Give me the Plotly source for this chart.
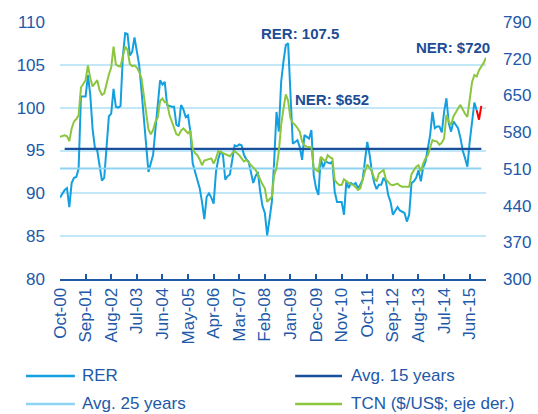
import plotly.graph_objects as go

# ---- data -------------------------------------------------------------
mon_names = ["Jan", "Feb", "Mar", "Apr", "May", "Jun",
             "Jul", "Aug", "Sep", "Oct", "Nov", "Dec"]
months = []
y, m = 2000, 10
for _ in range(184):
    months.append(f"{mon_names[m-1]}-{y % 100:02d}")
    m += 1
    if m > 12:
        m, y = 1, y + 1

tick_labels = ["Oct-00", "Sep-01", "Aug-02", "Jul-03", "Jun-04", "May-05",
               "Apr-06", "Mar-07", "Feb-08", "Jan-09", "Dec-09", "Nov-10",
               "Oct-11", "Sep-12", "Aug-13", "Jul-14", "Jun-15"]

rer = [89.5, 90.0, 90.4, 90.6, 88.4, 91.2, 91.8, 91.9, 92.9, 101.3,
       101.3, 101.3, 103.8, 101.5, 97.5, 95.3, 95.0, 93.0, 91.5, 91.8,
       96.0, 99.0, 99.3, 102.2, 100.1, 100.0, 100.2, 106.0, 108.7, 108.6,
       106.1, 106.5, 108.2, 106.5, 105.0, 102.0, 99.0, 96.0, 92.5, 93.5,
       94.5, 97.5, 100.5, 103.2, 102.7, 103.0, 100.3, 100.2, 100.1, 100.1,
       98.0, 97.8, 100.3, 99.8, 98.9, 99.1, 97.2, 93.5, 92.5, 91.8,
       90.6, 89.0, 87.0, 89.6, 90.0, 89.5, 88.8, 92.5, 94.0, 94.9,
       94.5, 91.6, 92.0, 92.2, 93.7, 95.6, 95.5, 95.7, 95.6, 94.5,
       94.0, 93.7, 92.5, 91.2, 92.0, 92.5, 90.2, 88.5, 87.7, 85.1,
       87.0, 89.0, 93.7, 99.5, 97.2, 103.0, 105.4, 107.3, 107.5, 101.1,
       95.8, 96.0, 96.2, 95.4, 93.9, 96.8, 96.6, 96.4, 97.4, 92.1,
       90.6, 89.8, 94.1, 93.0, 93.7, 93.6, 93.5, 93.7, 90.2, 89.0,
       89.0, 89.0, 87.5, 91.4, 90.6, 91.2, 91.0, 91.2, 90.6, 91.0,
       91.6, 94.0, 96.0, 94.5, 92.5, 91.2, 90.5, 91.0, 91.0, 91.8,
       91.4, 89.8, 89.0, 87.5, 88.0, 88.4, 88.0, 87.8, 87.7, 86.7,
       87.5, 91.2, 91.4, 91.8, 92.7, 91.4, 93.0, 93.7, 95.3, 96.8,
       99.5, 97.6, 97.8, 97.8, 97.1, 99.5, 101.1, 98.2, 97.2, 98.4,
       98.0, 97.6, 96.5, 95.0, 94.1, 93.1, 96.0, 98.4, 100.6, 99.7]
rer_latest = [99.7, 98.6, 100.2]          # red segment, last months

tcn = [571, 573, 574, 572, 563, 587, 600, 605, 612, 665,
       673, 679, 707, 683, 667, 672, 679, 660, 651, 654,
       673, 690, 703, 743, 709, 706, 705, 725, 743, 737,
       710, 706, 707, 703, 695, 683, 650, 625, 585, 576,
       584, 600, 608, 640, 644, 637, 637, 613, 600, 590,
       576, 574, 583, 587, 582, 578, 583, 549, 540, 536,
       528, 517, 526, 527, 529, 530, 520, 530, 544, 542,
       540, 538, 536, 534, 540, 544, 540, 536, 530, 524,
       527, 522, 517, 512, 508, 500, 489, 480, 473, 447,
       452, 457, 498, 511, 543, 594, 625, 652, 640, 606,
       598, 594, 588, 581, 562, 555, 552, 551, 551, 511,
       508, 505, 533, 528, 524, 536, 532, 530, 489, 483,
       479, 479, 490, 487, 483, 481, 479, 475, 470, 473,
       490, 505, 518, 512, 505, 492, 486, 501, 505, 508,
       490, 485, 480, 479, 481, 482, 478, 476, 476, 476,
       476, 500, 508, 514, 517, 505, 520, 530, 536, 549,
       565, 563, 562, 556, 560, 568, 613, 600, 594, 610,
       619, 625, 632, 622, 615, 609, 648, 675, 689, 686,
       698, 705, 712, 722]

avg15 = 95.2
avg25 = 92.9
avg15_span = (2, 181)
avg25_span = (0, 181)

legend_names = ["RER", "Avg. 15 years", "Avg. 25 years", "TCN ($/US$; eje der.)"]

# ---- styles -----------------------------------------------------------
C_RER = "#139FE0"
C_AVG15 = "#1B4F9C"
C_AVG25 = "#8ED4F2"
C_TCN = "#8CC63F"
C_GRID = "#C2E7F7"
C_TXT = "#2159A8"
C_ANN = "#1D4C96"
FONT = "Liberation Sans, Arial, sans-serif"

fig = go.Figure()

fig.add_trace(go.Scatter(x=months[:len(rer)], y=rer, name=legend_names[0], mode="lines",
                         line=dict(color=C_RER, width=2)))
fig.add_trace(go.Scatter(x=[months[avg15_span[0]], months[avg15_span[1]]],
                         y=[avg15, avg15], name=legend_names[1], mode="lines",
                         line=dict(color=C_AVG15, width=2.2)))
fig.add_trace(go.Scatter(x=[months[avg25_span[0]], months[avg25_span[1]]],
                         y=[avg25, avg25], name=legend_names[2], mode="lines",
                         line=dict(color=C_AVG25, width=2.2)))
fig.add_trace(go.Scatter(x=months[:len(tcn)], y=tcn, name=legend_names[3],
                         mode="lines", yaxis="y2",
                         line=dict(color=C_TCN, width=2)))
fig.add_trace(go.Scatter(x=months[len(rer)-1:len(rer)-1+len(rer_latest)],
                         y=rer_latest, mode="lines", name="RER (latest)",
                         line=dict(color="#FF0000", width=2)))

# ---- hand-placed legend (two columns, as in the original) --------------
leg_colors = [C_RER, C_AVG15, C_AVG25, C_TCN]
leg_pos = [(-0.080, 0.035, 0.047, -0.377),
           (0.552, 0.662, 0.678, -0.377),
           (-0.080, 0.035, 0.047, -0.486),
           (0.552, 0.662, 0.678, -0.486)]
shapes = []
annotations = []
for name, col, (x0, x1, xt, yy) in zip(legend_names, leg_colors, leg_pos):
    shapes.append(dict(type="line", xref="paper", yref="paper",
                       x0=x0, x1=x1, y0=yy, y1=yy,
                       line=dict(color=col, width=2.5)))
    annotations.append(dict(xref="paper", yref="paper", x=xt, y=yy,
                            xanchor="left", yanchor="middle", text=name,
                            showarrow=False,
                            font=dict(family=FONT, size=17, color=C_TXT)))

annotations += [
    dict(x=months[103], y=108.7, xref="x", yref="y", text="<b>RER: 107.5</b>",
         showarrow=False, font=dict(family=FONT, size=15, color=C_ANN)),
    dict(x=months[117], y=100.9, xref="x", yref="y", text="<b>NER: $652</b>",
         showarrow=False, font=dict(family=FONT, size=15, color=C_ANN)),
    dict(x=months[169], y=107.0, xref="x", yref="y", text="<b>NER: $720</b>",
         showarrow=False, font=dict(family=FONT, size=15, color=C_ANN)),
]

fig.update_layout(
    width=538, height=414,
    margin=dict(l=60, r=52, t=22, b=135, autoexpand=False),
    paper_bgcolor="white", plot_bgcolor="white",
    font=dict(family=FONT, size=17, color=C_TXT),
    showlegend=False,
    xaxis=dict(type="category", categoryorder="array", categoryarray=months,
               range=[0, len(months) - 1],
               tickmode="array", tickvals=tick_labels, ticktext=tick_labels,
               tickangle=-90, showgrid=False, zeroline=False,
               showline=True, linecolor="#1F5AA6", linewidth=2,
               ticks="inside", ticklen=5, tickcolor="#1F5AA6", tickwidth=2,
               tickfont=dict(size=17, color=C_TXT)),
    yaxis=dict(range=[80, 110], dtick=5, tick0=80, showgrid=True,
               gridcolor=C_GRID, gridwidth=1.5, zeroline=False,
               showline=False, ticks="", ticklabelstandoff=14,
               tickfont=dict(size=17, color=C_TXT)),
    yaxis2=dict(range=[300, 790], dtick=70, tick0=300, overlaying="y",
                side="right", showgrid=False, zeroline=False, showline=False,
                ticks="", ticklabelstandoff=16,
                tickfont=dict(size=17, color=C_TXT)),
    shapes=shapes,
    annotations=annotations,
)

fig.write_html("out.html",
               config={"displayModeBar": False},
               post_script="document.body.style.margin='0';"
                           "document.body.style.overflow='hidden';")
